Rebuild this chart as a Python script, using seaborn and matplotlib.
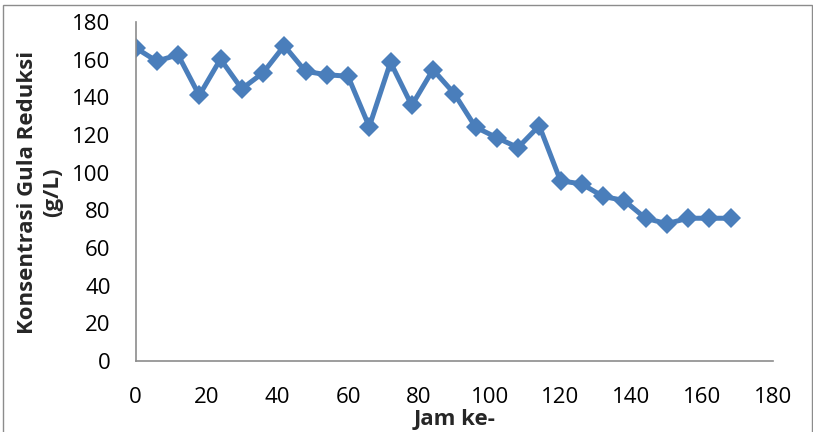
import numpy as np
import pandas as pd
import seaborn as sns
import matplotlib.pyplot as plt
from matplotlib.patches import Rectangle

jam = [0, 6, 12, 18, 24, 30, 36, 42, 48, 54, 60, 66, 72, 78, 84,
       90, 96, 102, 108, 114, 120, 126, 132, 138, 144, 150, 156, 162, 168]
gula = [166.3, 159.2, 162.6, 141.0, 160.3, 144.5, 153.0, 167.4, 153.8, 152.0,
        151.2, 124.4, 158.6, 135.7, 154.7, 142.0, 124.2, 118.6, 113.3, 124.9,
        95.7, 94.0, 87.4, 85.2, 75.8, 72.9, 75.8, 75.8, 75.8]
x_ticks = [0, 20, 40, 60, 80, 100, 120, 140, 160, 180]
y_ticks = [0, 20, 40, 60, 80, 100, 120, 140, 160, 180]

df = pd.DataFrame({"Jam ke-": jam, "Gula": gula})

sns.set_style("white")
plt.rcParams["font.family"] = ["Open Sans", "DejaVu Sans"]

fig = plt.figure(figsize=(8.13, 4.32), dpi=100)
ax = fig.add_axes([135.5 / 813, 1 - 361 / 432, (773 - 135.5) / 813, (361 - 22) / 432])

sns.lineplot(data=df, x="Jam ke-", y="Gula", ax=ax, color="#4A7EBB",
             linewidth=3.6, marker="D", markersize=10, markeredgewidth=0)

ax.set_xlim(0, 180)
ax.set_ylim(0, 180)
ax.set_xticks(x_ticks)
ax.set_yticks(y_ticks)
ax.tick_params(axis="both", length=0, labelsize=16, colors="black")
ax.tick_params(axis="x", pad=19)
ax.tick_params(axis="y", pad=18)

for side in ["top", "right"]:
    ax.spines[side].set_visible(False)
for side in ["left", "bottom"]:
    ax.spines[side].set_color("#8c8c8c")
    ax.spines[side].set_linewidth(1.2)

ax.set_xlabel("Jam ke-", fontsize=16, fontweight="bold")
ax.xaxis.set_label_coords(0.5, -0.142)
ax.set_ylabel("")
fig.text(40 / 813, 1 - 192 / 432, "Konsentrasi Gula Reduksi\n(g/L)",
         rotation=90, ha="center", va="center", fontsize=16,
         fontweight="bold", linespacing=1.25)

# chart area border
fig.patches.append(Rectangle((3 / 813, -0.05), 809 / 813, 1.05 - 5 / 432,
                             transform=fig.transFigure, fill=False,
                             edgecolor="#8c8c8c", linewidth=1.0))

fig.savefig("out.png", dpi=100)
